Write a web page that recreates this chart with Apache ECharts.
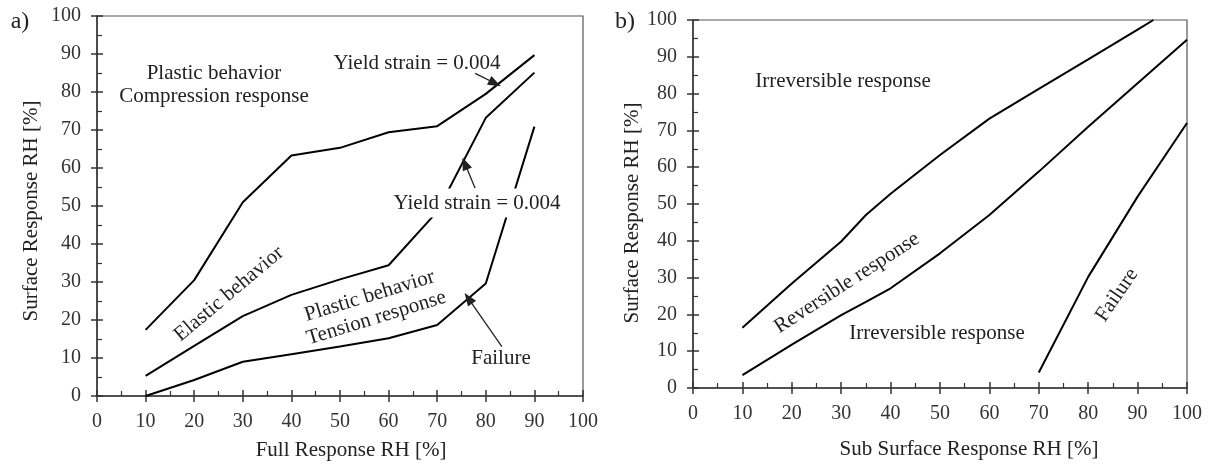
<!DOCTYPE html>
<html>
<head>
<meta charset="utf-8">
<script src="https://cdn.jsdelivr.net/npm/echarts@6/dist/echarts.min.js"></script>
<style>html,body{margin:0;padding:0;background:#fff}#c{width:1214px;height:466px}</style>
</head>
<body>
<div id="c"></div>
<script>
// ---- Data ----
// Panel a) x = Full Response RH [%]
const aX = [10, 20, 30, 40, 50, 60, 70, 80, 90];
const aCompression = [17.4, 30.5, 51, 63.3, 65.3, 69.4, 71, 79.5, 89.7];   // upper yield line
const aTension = [5.3, 13.2, 21, 26.6, 30.7, 34.4, 48.5, 73.2, 85.1];       // lower yield line
const aFailure = [0, 4.2, 9, 11, 13, 15.2, 18.7, 29.6, 70.9];               // failure line
// Panel b) x = Sub Surface Response RH [%]
const bUpperX = [10, 20, 30, 35, 40, 50, 60, 70, 80, 90, 93.2];
const bUpper = [16.4, 28.4, 39.8, 47, 52.8, 63.3, 73.2, 81.3, 89.3, 97.4, 100];
const bLowerX = [10, 20, 30, 35, 40, 50, 60, 70, 80, 90, 100];
const bLower = [3.5, 11.8, 19.8, 23.4, 27.1, 36.6, 47, 58.8, 71, 82.8, 94.6];
const bFailX = [70, 80, 90, 100];
const bFail = [4.2, 30.2, 52, 72];
// Arrow annotations (data coordinates, panel a): [from, to]
const arrows = [
  [[77.8, 84.9], [81.9, 82.3]],
  [[77.8, 54.7], [75.7, 61.2]],
  [[83.3, 13.0], [76.4, 25.7]]
];
const tickMin = 0, tickMax = 100, tickStep = 10;

const FONT = "'Liberation Serif','Times New Roman',serif";
const TXT = '#222';
const pairs = (xs, ys) => xs.map((x, i) => [x, ys[i]]);

const grids = [
  {left: 97, top: 16, width: 486, height: 380},
  {left: 693, top: 20, width: 494, height: 368}
];

function mainX(gi, name, pad, gap) {
  return {
    type: 'value', gridIndex: gi, position: 'bottom', min: tickMin, max: tickMax, interval: tickStep,
    axisLine: {show: true, lineStyle: {color: '#333', width: 1.5}},
    axisTick: {show: true, inside: true, length: 6, lineStyle: {color: '#333', width: 1.5}},
    minorTick: {show: true, splitNumber: 2, length: 5, lineStyle: {color: '#333', width: 1.2}},
    axisLabel: {color: '#333', fontFamily: FONT, fontSize: 20, margin: 16},
    splitLine: {show: false},
    name: name, nameLocation: 'middle', nameGap: gap,
    nameTextStyle: {color: TXT, fontFamily: FONT, fontSize: 21, padding: pad}
  };
}
function outX(gi) {
  return {
    type: 'value', gridIndex: gi, position: 'bottom', min: tickMin, max: tickMax, interval: tickStep,
    axisLine: {show: false},
    axisTick: {show: true, inside: false, length: 6, lineStyle: {color: '#333', width: 1.5}},
    axisLabel: {show: false}, splitLine: {show: false}
  };
}
function mainY(gi, name, pad, gap) {
  return {
    type: 'value', gridIndex: gi, position: 'left', min: tickMin, max: tickMax, interval: tickStep,
    axisLine: {show: true, lineStyle: {color: '#333', width: 1.5}},
    axisTick: {show: true, inside: true, length: 6, lineStyle: {color: '#333', width: 1.5}},
    minorTick: {show: true, splitNumber: 2, length: 5, lineStyle: {color: '#333', width: 1.2}},
    axisLabel: {color: '#333', fontFamily: FONT, fontSize: 20, margin: 16},
    splitLine: {show: false},
    name: name, nameLocation: 'middle', nameGap: gap,
    nameTextStyle: {color: TXT, fontFamily: FONT, fontSize: 21, padding: pad}
  };
}
function outY(gi) {
  return {
    type: 'value', gridIndex: gi, position: 'left', min: tickMin, max: tickMax, interval: tickStep,
    axisLine: {show: false},
    axisTick: {show: true, inside: false, length: 6, lineStyle: {color: '#333', width: 1.5}},
    axisLabel: {show: false}, splitLine: {show: false}
  };
}
function line(xi, yi, data, extra) {
  return Object.assign({
    type: 'line', xAxisIndex: xi, yAxisIndex: yi, data: data, showSymbol: false, symbol: 'none',
    lineStyle: {color: '#000', width: 2}, silent: true, animation: false, clip: true, z: 2
  }, extra || {});
}
function txt(x, y, s, rotDeg, size, bg) {
  const st = {text: s, fill: TXT, font: (size || 21) + 'px ' + FONT, align: 'center', verticalAlign: 'middle', lineHeight: 23};
  if (bg) { st.backgroundColor = '#fff'; st.padding = [3, 2]; }
  return {
    type: 'text', x: x, y: y, rotation: (rotDeg || 0) * Math.PI / 180, silent: true, z: 10,
    style: st
  };
}

const option = {
  backgroundColor: '#fff',
  animation: false,
  grid: grids.map(g => Object.assign({show: true, borderColor: '#555', borderWidth: 1.2, backgroundColor: 'transparent', containLabel: false}, g)),
  xAxis: [
    mainX(0, 'Full Response RH [%]', [0, 0, 0, 22], 44), outX(0),
    mainX(1, 'Sub Surface Response RH [%]', [0, 0, 0, 58], 51), outX(1)
  ],
  yAxis: [
    mainY(0, 'Surface Response RH [%]', [0, 10, 0, 0], 55), outY(0),
    mainY(1, 'Surface Response RH [%]', [0, 18, 0, 0], 48), outY(1)
  ],
  series: [
    line(0, 0, pairs(aX, aCompression), {
      markLine: {
        silent: true, symbol: ['none', 'triangle'], symbolSize: [10, 13], animation: false,
        label: {show: false},
        lineStyle: {color: '#222', width: 1.3, type: 'solid'},
        data: arrows.map(a => [{coord: a[0]}, {coord: a[1]}])
      }
    }),
    line(0, 0, pairs(aX, aTension)),
    line(0, 0, pairs(aX, aFailure)),
    line(2, 2, pairs(bUpperX, bUpper)),
    line(2, 2, pairs(bLowerX, bLower)),
    line(2, 2, pairs(bFailX, bFail))
  ],
  graphic: [
    txt(20, 22, 'a)', 0, 24),
    txt(625, 22, 'b)', 0, 24),
    txt(214, 85, 'Plastic behavior\nCompression response'),
    txt(417, 63, 'Yield strain = 0.004'),
    txt(477, 203, 'Yield strain = 0.004', 0, 21, true),
    txt(229, 294, 'Elastic behavior', 40),
    txt(373, 307, 'Plastic behavior\nTension response', 17),
    txt(501, 358, 'Failure'),
    txt(843, 81, 'Irreversible response'),
    txt(847, 283, 'Reversible response', 33),
    txt(937, 333, 'Irreversible response'),
    txt(1117, 295, 'Failure', 55.5)
  ]
};
const chart = echarts.init(document.getElementById('c'), null, {renderer: 'canvas'});
chart.setOption(option);
</script>
</body>
</html>
